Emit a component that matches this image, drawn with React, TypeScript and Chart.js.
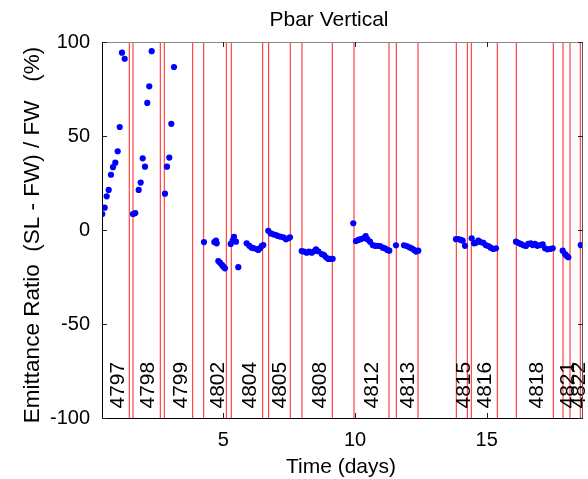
import { useEffect, useRef } from "react";
import { Chart, registerables } from "chart.js";

Chart.register(...registerables);

const chartTitle = "Pbar Vertical";
const xTitle = "Time (days)";
const yTitle = "Emittance Ratio  (SL - FW) / FW   (%)";

const xMin = 0.395;
const xMax = 18.656;
const yMin = -100;
const yMax = 100;
const xTickValues = [5, 10, 15];
const yTickValues = [-100, -50, 0, 50, 100];

const timeDays = [
  0.406, 0.497, 0.573, 0.649, 0.736, 0.812, 0.9, 0.991, 1.067, 1.154, 1.257,
  1.572, 1.659, 1.788, 1.864, 1.94, 2.027, 2.114, 2.19, 2.281,
  2.786, 2.862, 2.95, 3.026, 3.128,
  4.267, 4.658, 4.723, 4.749, 4.81, 4.874, 4.95, 5.0, 5.064,
  5.281, 5.357, 5.406, 5.482, 5.569,
  5.888, 5.987, 6.078, 6.165, 6.268, 6.329, 6.393, 6.458, 6.518,
  6.708, 6.799, 6.898, 7.0, 7.088, 7.179, 7.278, 7.38, 7.467, 7.532,
  7.976, 8.064, 8.166, 8.254, 8.356, 8.443, 8.519, 8.607, 8.736, 8.823, 8.899, 8.986, 9.077, 9.153,
  9.935,
  10.038, 10.125, 10.216, 10.315, 10.406, 10.467, 10.569, 10.672, 10.759, 10.847, 10.949, 11.052, 11.139, 11.226, 11.302,
  11.556, 11.86, 11.963, 12.061, 12.152, 12.24, 12.316, 12.403,
  13.834, 13.922, 14.013, 14.089, 14.176,
  14.43, 14.518, 14.594, 14.681, 14.772, 14.871, 14.962, 15.061, 15.152, 15.25, 15.353,
  16.112, 16.2, 16.291, 16.39, 16.492, 16.579, 16.67, 16.746, 16.833, 16.921, 17.023, 17.126, 17.213, 17.301, 17.403, 17.506,
  17.886, 17.973, 18.038, 18.098,
  18.569,
];

const ratioPct = [
  8.5, 11.9, 17.9, 21.3, 29.4, 33.4, 35.8, 41.9, 54.8, 94.3, 91.1,
  8.5, 9.0, 21.3, 25.2, 38.1, 33.7, 67.6, 76.4, 95.1,
  19.3, 33.7, 38.5, 56.5, 86.7,
  -6.4, -6.4, -5.7, -7.1, -16.5, -17.4, -18.6, -19.5, -20.4,
  -7.4, -5.7, -3.6, -6.2, -19.8,
  -7.1, -8.4, -9.4, -9.7, -10.1, -10.6, -9.7, -8.5, -8.0,
  -0.4, -1.8, -2.3, -2.7, -3.2, -3.6, -3.9, -4.9, -4.4, -3.9,
  -11.2, -11.5, -12.1, -11.5, -12.1, -11.3, -10.3, -11.3, -12.8, -13.3, -14.5, -15.4, -15.4, -15.3,
  3.6,
  -5.9, -5.3, -4.9, -4.4, -3.2, -4.9, -6.2, -8.0, -8.4, -8.4, -8.5, -9.4, -9.7, -10.6, -11.0,
  -8.1, -8.1, -8.5, -9.2, -9.7, -10.6, -11.5, -11.0,
  -4.9, -4.8, -5.3, -5.7, -8.4,
  -4.4, -7.1, -6.8, -5.7, -6.4, -6.8, -8.0, -8.5, -9.4, -10.1, -9.7,
  -6.2, -6.8, -7.4, -8.1, -8.5, -7.4, -7.1, -8.0, -7.4, -8.4, -8.0, -7.6, -9.7, -10.3, -10.1, -9.7,
  -11.0, -12.8, -13.8, -14.5,
  -8.0,
];

const storeBoundaries = [
  1.431, 1.572, 2.608, 2.76, 3.838, 4.256, 5.114, 5.303, 6.496, 6.723, 7.543,
  7.987, 9.138, 9.962, 11.291, 11.568, 12.392, 13.846, 14.264, 14.415, 15.402,
  16.124, 17.528, 17.897, 18.163, 18.553,
];

const storeLabelX = [
  0.957, 2.11, 3.356, 4.768, 5.983, 7.11, 8.64, 10.6, 11.98, 14.11, 14.906,
  16.87, 18.04, 18.48,
];
const storeLabels = [
  "4797", "4798", "4799", "4802", "4804", "4805", "4808", "4812", "4813",
  "4815", "4816", "4818", "4821", "4822",
];

const FONT = '"Liberation Sans", Arial, Helvetica, sans-serif';

const decorPlugin = {
  id: "decor",
  beforeDatasetsDraw(chart: any) {
    const { ctx, chartArea, scales } = chart;
    const xs = scales.x;
    ctx.save();
    ctx.beginPath();
    ctx.rect(chartArea.left, chartArea.top, chartArea.right - chartArea.left, chartArea.bottom - chartArea.top);
    ctx.clip();
    ctx.strokeStyle = "rgb(255,30,30)";
    ctx.lineWidth = 1;
    storeBoundaries.forEach((v) => {
      const px = xs.getPixelForValue(v);
      ctx.beginPath();
      ctx.moveTo(px, chartArea.top);
      ctx.lineTo(px, chartArea.bottom);
      ctx.stroke();
    });
    ctx.restore();

    ctx.save();
    ctx.fillStyle = "#000";
    ctx.font = `21px ${FONT}`;
    ctx.textAlign = "left";
    ctx.textBaseline = "middle";
    storeLabels.forEach((t, i) => {
      const px = xs.getPixelForValue(storeLabelX[i]);
      ctx.save();
      ctx.translate(px, 408.5);
      ctx.rotate(-Math.PI / 2);
      ctx.fillText(t, 0, 1);
      ctx.restore();
    });
    ctx.restore();
  },
  afterDraw(chart: any) {
    const { ctx, chartArea, scales } = chart;
    const { left, right, top, bottom } = chartArea;
    ctx.save();
    // frame
    ctx.lineWidth = 1;
    ctx.strokeStyle = "#888";
    ctx.beginPath();
    ctx.moveTo(left, top + 0.5);
    ctx.lineTo(right, top + 0.5);
    ctx.stroke();
    ctx.strokeStyle = "#555";
    ctx.beginPath();
    ctx.moveTo(right - 0.5, top);
    ctx.lineTo(right - 0.5, bottom);
    ctx.stroke();
    ctx.strokeStyle = "#000";
    ctx.beginPath();
    ctx.moveTo(left + 0.5, top);
    ctx.lineTo(left + 0.5, bottom + 0.5);
    ctx.lineTo(right, bottom + 0.5);
    ctx.stroke();
    // ticks (inward, mirrored)
    const tl = 5;
    ctx.strokeStyle = "#222";
    xTickValues.forEach((v) => {
      const px = Math.round(scales.x.getPixelForValue(v)) + 0.5;
      ctx.beginPath();
      ctx.moveTo(px, bottom);
      ctx.lineTo(px, bottom - tl);
      ctx.moveTo(px, top);
      ctx.lineTo(px, top + tl);
      ctx.stroke();
    });
    yTickValues.forEach((v) => {
      const py = Math.round(scales.y.getPixelForValue(v)) + 0.5;
      ctx.beginPath();
      ctx.moveTo(left, py);
      ctx.lineTo(left + tl, py);
      ctx.moveTo(right, py);
      ctx.lineTo(right - tl, py);
      ctx.stroke();
    });
    // titles
    ctx.fillStyle = "#000";
    ctx.font = `21px ${FONT}`;
    ctx.textAlign = "center";
    ctx.textBaseline = "alphabetic";
    ctx.fillText(chartTitle, 329, 26);
    ctx.fillText(xTitle, 341, 473);
    ctx.save();
    ctx.font = `22.5px ${FONT}`;
    ctx.translate(39, 235);
    ctx.rotate(-Math.PI / 2);
    ctx.fillText(yTitle, 0, 0);
    ctx.restore();
    ctx.restore();
  },
};

export default function App() {
  const canvasRef = useRef<HTMLCanvasElement | null>(null);

  useEffect(() => {
    if (!canvasRef.current) return;
    const points = timeDays.map((t, i) => ({ x: t, y: ratioPct[i] }));
    const chart = new Chart(canvasRef.current, {
      type: "scatter",
      data: {
        datasets: [
          {
            data: points,
            backgroundColor: "#0000ff",
            borderColor: "#0000ff",
            borderWidth: 0,
            pointRadius: 3.1,
            pointHoverRadius: 3.1,
            showLine: false,
          },
        ],
      },
      options: {
        responsive: false,
        animation: false,
        events: [],
        layout: { padding: { top: 42, right: 5, left: 0, bottom: 0 } },
        plugins: {
          legend: { display: false },
          title: { display: false },
          tooltip: { enabled: false },
        },
        scales: {
          x: {
            type: "linear",
            min: xMin,
            max: xMax,
            grid: { display: false, drawTicks: false },
            border: { display: false },
            afterBuildTicks: (s: any) => {
              s.ticks = xTickValues.map((v) => ({ value: v }));
            },
            afterFit: (s: any) => {
              s.height = 61;
            },
            ticks: {
              padding: 10,
              color: "#000",
              font: { family: FONT, size: 20 },
              maxRotation: 0,
            },
          },
          y: {
            type: "linear",
            min: yMin,
            max: yMax,
            grid: { display: false, drawTicks: false },
            border: { display: false },
            afterBuildTicks: (s: any) => {
              s.ticks = yTickValues.map((v) => ({ value: v }));
            },
            afterFit: (s: any) => {
              s.width = 102;
            },
            ticks: {
              padding: 12,
              color: "#000",
              font: { family: FONT, size: 20 },
            },
          },
        },
      },
      plugins: [decorPlugin],
    });
    return () => chart.destroy();
  }, []);

  return (
    <div style={{ position: "fixed", left: 0, top: 0, width: 588, height: 479, background: "#fff" }}>
      <canvas ref={canvasRef} width={588} height={479} style={{ display: "block" }} />
    </div>
  );
}
